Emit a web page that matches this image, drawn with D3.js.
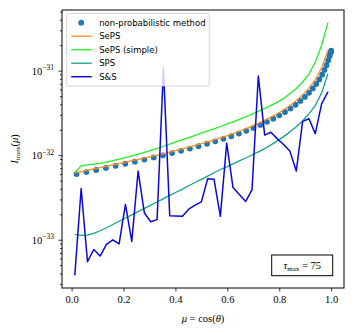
<!DOCTYPE html>
<html>
<head>
<meta charset="utf-8">
<script src="https://cdn.jsdelivr.net/npm/d3@7"></script>
<style>
body { margin: 0; background: #fff; }
svg { display: block; }
</style>
</head>
<body>
<svg id="drawing_region"></svg>
<script>
// all intensities below are in units of 1e-33
const unit = 1e-33;

// mu grid of the transport solutions
const muGrid = [0.0125, 0.0369, 0.0613, 0.0856, 0.11, 0.1344, 0.1588, 0.1831, 0.2075, 0.2319,
  0.2563, 0.2806, 0.305, 0.3294, 0.3538, 0.3781, 0.4025, 0.4269, 0.4513, 0.4756,
  0.5, 0.5244, 0.5488, 0.5731, 0.5975, 0.6219, 0.6463, 0.6706, 0.695, 0.7194,
  0.7438, 0.7681, 0.7925, 0.8169, 0.8413, 0.8656, 0.89, 0.9144, 0.9388, 0.9631, 0.9875];

// mu values of the non-probabilistic method
const muDots = [0.0192, 0.0570, 0.0947, 0.1323, 0.1697, 0.2069, 0.2437, 0.2803, 0.3164, 0.3520,
  0.3872, 0.4218, 0.4558, 0.4891, 0.5218, 0.5537, 0.5848, 0.6151, 0.6445, 0.6730,
  0.7005, 0.7270, 0.7524, 0.7768, 0.8000, 0.8221, 0.8431, 0.8628, 0.8813, 0.8986,
  0.9146, 0.9292, 0.9425, 0.9545, 0.9651, 0.9743, 0.9821, 0.9885, 0.9935, 0.9971, 0.9993, 1.0];

const dotValues = [5.98, 6.31, 6.68, 7.07, 7.49, 7.92, 8.39, 8.88, 9.40, 9.97,
  10.58, 11.26, 11.98, 12.79, 13.65, 14.57, 15.62, 16.76, 18.03, 19.45,
  21.04, 22.82, 24.81, 27.05, 29.58, 32.43, 35.73, 39.50, 43.89, 48.91,
  54.80, 61.55, 69.50, 78.73, 89.65, 102.0, 116.2, 132.0, 148.3, 160.8, 168.3, 172.0];

const sepsValues = [6.18, 6.40, 6.61, 6.87, 7.13, 7.39, 7.67, 7.97, 8.28, 8.60,
  8.93, 9.27, 9.63, 10.03, 10.44, 10.90, 11.39, 11.89, 12.45, 13.07,
  13.72, 14.41, 15.17, 16.01, 16.94, 17.98, 19.19, 20.48, 22.02, 23.76,
  25.76, 28.18, 30.96, 34.42, 38.66, 44.13, 51.76, 62.05, 78.5, 108.3, 173.4];

const sepsSimpleValues = [6.23, 7.47, 7.67, 7.82, 7.99, 8.30, 8.62, 8.97, 9.37, 9.81,
  10.30, 10.82, 11.42, 12.05, 12.76, 13.53, 14.37, 15.25, 16.18, 17.18,
  18.23, 19.35, 20.53, 21.85, 23.25, 24.81, 26.55, 28.48, 30.63, 33.04,
  35.74, 38.87, 42.49, 46.97, 53.78, 61.55, 73.38, 91.1, 126.1, 199.6, 369.7];

const spsValues = [1.16, 1.125, 1.131, 1.187, 1.277, 1.385, 1.514, 1.656, 1.806, 1.969,
  2.152, 2.353, 2.566, 2.798, 3.059, 3.345, 3.648, 3.977, 4.347, 4.753,
  5.18, 5.666, 6.196, 6.774, 7.266, 7.883, 8.551, 9.271, 10.05, 10.96,
  11.98, 13.25, 14.76, 16.58, 18.88, 21.73, 25.55, 30.88, 38.87, 54.5, 92.3];

const ssValues = [0.379, 4.03, 0.550, 0.766, 0.641, 0.882, 0.996, 0.894, 2.62, 0.956,
  6.49, 2.07, 1.63, 1.73, 107.2, 1.92, 1.91, 1.89, 2.30, 2.57,
  2.81, 5.28, 5.18, 1.89, 13.9, 4.14, 3.43, 2.84, 3.88, 86.3,
  17.3, 18.7, 15.6, 13.4, 11.1, 6.49, 25.1, 27.0, 18.0, 40.5, 56.0];

const lineNames = ['SePS', 'SePS (simple)', 'SPS', 'S&S'];
const dotName = 'non-probabilistic method';
const xTicks = [0.0, 0.2, 0.4, 0.6, 0.8, 1.0];
const yTickExps = [-33, -32, -31];
const tauMax = 75;

const config = {
    parent: '#drawing_region',
    width: 354,
    height: 333,
    margin: {top: 10, right: 10, bottom: 45, left: 62}
};

const lineSeries = [
    {name: lineNames[0], values: sepsValues, color: '#ff8c1a', width: 1.3},
    {name: lineNames[1], values: sepsSimpleValues, color: '#22f022', width: 1.3},
    {name: lineNames[2], values: spsValues, color: '#13a38a', width: 1.3},
    {name: lineNames[3], values: ssValues, color: '#0a0ad8', width: 1.5}
];

const svg = d3.select(config.parent)
    .attr('width', config.width)
    .attr('height', config.height);

const inner_width = config.width - config.margin.left - config.margin.right;
const inner_height = config.height - config.margin.top - config.margin.bottom;

const chart = svg.append('g')
    .attr('transform', `translate(${config.margin.left}, ${config.margin.top})`);

// matplotlib style 5% padding
const allMu = muGrid.concat(muDots);
const xmin = d3.min(allMu), xmax = d3.max(allMu);
const xpad = 0.05 * (xmax - xmin);
const xscale = d3.scaleLinear()
    .domain([xmin - xpad, xmax + xpad])
    .range([0, inner_width]);

const allVals = dotValues.concat(sepsValues, sepsSimpleValues, spsValues, ssValues).map(v => v * unit);
const lmin = Math.log10(d3.min(allVals)), lmax = Math.log10(d3.max(allVals));
const lpad = 0.05 * (lmax - lmin);
const yscale = d3.scaleLog()
    .domain([Math.pow(10, lmin - lpad), Math.pow(10, lmax + lpad)])
    .range([inner_height, 0]);

const serif = "'Liberation Serif', 'DejaVu Serif', serif";
const sans = "'DejaVu Sans', sans-serif";

// x axis
const xaxis = d3.axisBottom(xscale)
    .tickValues(xTicks)
    .tickFormat(d3.format('.1f'))
    .tickSize(3.5)
    .tickPadding(4);
const xaxis_group = chart.append('g')
    .attr('transform', `translate(0, ${inner_height})`)
    .call(xaxis);
xaxis_group.select('.domain').remove();
xaxis_group.selectAll('text')
    .attr('font-family', serif)
    .attr('font-size', 10.5)
    .attr('fill', '#000');

// y axis, major and minor ticks
const majorTicks = yTickExps.map(e => Math.pow(10, e));
const minorTicks = [];
for (let e = -34; e <= -31; e++) {
    for (let m = 2; m <= 9; m++) {
        const v = m * Math.pow(10, e);
        if (v >= yscale.domain()[0] && v <= yscale.domain()[1]) minorTicks.push(v);
    }
}
const yaxis = d3.axisLeft(yscale)
    .tickValues(majorTicks)
    .tickFormat('')
    .tickSize(3.5);
const yaxis_minor = d3.axisLeft(yscale)
    .tickValues(minorTicks)
    .tickFormat('')
    .tickSize(2);
const yaxis_group = chart.append('g').call(yaxis);
const yminor_group = chart.append('g').call(yaxis_minor);
yaxis_group.select('.domain').remove();
yminor_group.select('.domain').remove();
chart.selectAll('.tick line').attr('stroke', '#000').attr('stroke-width', 0.8);

yaxis_group.selectAll('.tick').each(function(d) {
    const t = d3.select(this).append('text')
        .attr('x', -8)
        .attr('y', 3.5)
        .attr('text-anchor', 'end')
        .attr('font-family', serif)
        .attr('font-size', 10.5)
        .attr('fill', '#000');
    t.append('tspan').text('10');
    t.append('tspan')
        .attr('dy', -4.5)
        .attr('font-size', 7.5)
        .text('\u2212' + Math.abs(Math.round(Math.log10(d))));
});

// scatter first, lines on top
chart.append('g').selectAll('circle')
    .data(muDots.map((m, i) => ({mu: m, v: dotValues[i] * unit})))
    .enter()
    .append('circle')
    .attr('cx', d => xscale(d.mu))
    .attr('cy', d => yscale(d.v))
    .attr('r', 2.9)
    .attr('fill', '#1f77b4');

const line = d3.line()
    .x(d => xscale(d.mu))
    .y(d => yscale(d.v));

chart.append('g').selectAll('path')
    .data(lineSeries)
    .enter()
    .append('path')
    .attr('d', s => line(muGrid.map((m, i) => ({mu: m, v: s.values[i] * unit}))))
    .attr('fill', 'none')
    .attr('stroke', s => s.color)
    .attr('stroke-width', s => s.width)
    .attr('stroke-linejoin', 'round');

// frame
chart.append('rect')
    .attr('width', inner_width)
    .attr('height', inner_height)
    .attr('fill', 'none')
    .attr('stroke', '#000')
    .attr('stroke-width', 1);

// axis labels
const xlabel = svg.append('text')
    .attr('x', config.margin.left + inner_width / 2)
    .attr('y', 322)
    .attr('text-anchor', 'middle')
    .attr('font-family', serif)
    .attr('font-size', 10.5);
xlabel.append('tspan').attr('font-style', 'italic').text('\u03bc');
xlabel.append('tspan').text(' = cos(');
xlabel.append('tspan').attr('font-style', 'italic').text('\u03b8');
xlabel.append('tspan').text(')');

const ylabel = svg.append('text')
    .attr('transform', `translate(18, ${config.margin.top + inner_height / 2}) rotate(-90)`)
    .attr('text-anchor', 'middle')
    .attr('font-family', serif)
    .attr('font-size', 10.5);
ylabel.append('tspan').attr('font-style', 'italic').text('I');
ylabel.append('tspan').attr('font-size', 7).attr('dy', 2).text('trans');
ylabel.append('tspan').attr('dy', -2).text('(');
ylabel.append('tspan').attr('font-style', 'italic').text('\u03bc');
ylabel.append('tspan').text(')');

// legend
const legend = chart.append('g').attr('transform', 'translate(4.7, 3.3)');
legend.append('rect')
    .attr('width', 142.6)
    .attr('height', 72.7)
    .attr('rx', 2)
    .attr('fill', '#fff')
    .attr('fill-opacity', 0.8)
    .attr('stroke', '#cccccc')
    .attr('stroke-width', 0.8);
const legendItems = [{name: dotName, dot: true}].concat(lineSeries);
const rows = legend.selectAll('.row')
    .data(legendItems)
    .enter()
    .append('g')
    .attr('transform', (d, i) => `translate(0, ${9.4 + i * 13.5})`);
rows.filter(d => d.dot).append('circle')
    .attr('cx', 14.5)
    .attr('r', 2.9)
    .attr('fill', '#1f77b4');
rows.filter(d => !d.dot).append('line')
    .attr('x1', 4.5)
    .attr('x2', 25)
    .attr('stroke', d => d.color)
    .attr('stroke-width', d => d.width);
rows.append('text')
    .attr('x', 32.5)
    .attr('y', 3)
    .attr('font-family', sans)
    .attr('font-size', 8.5)
    .attr('fill', '#000')
    .text(d => d.name);

// tau_max box
const tbox = chart.append('g').attr('transform', `translate(${271.7 - config.margin.left}, ${255 - config.margin.top})`);
tbox.append('rect')
    .attr('width', 61)
    .attr('height', 20.7)
    .attr('fill', '#fff')
    .attr('stroke', '#000')
    .attr('stroke-width', 1);
const ttext = tbox.append('text')
    .attr('x', 30.5)
    .attr('y', 13.8)
    .attr('text-anchor', 'middle')
    .attr('font-family', serif)
    .attr('font-size', 10.5);
ttext.append('tspan').attr('font-style', 'italic').text('\u03c4');
ttext.append('tspan').attr('font-size', 7).attr('dy', 2).text('max');
ttext.append('tspan').attr('dy', -2).text(' = ' + tauMax);
</script>
</body>
</html>
